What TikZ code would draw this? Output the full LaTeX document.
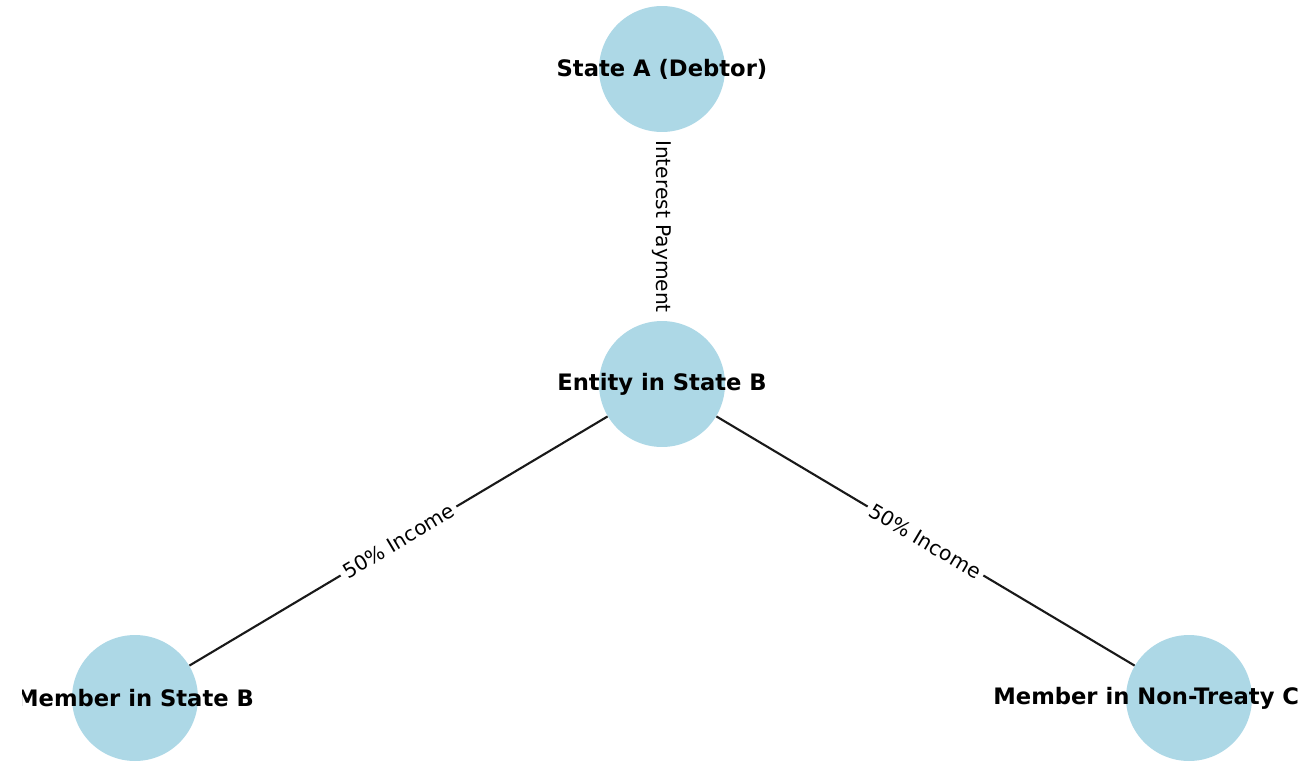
\documentclass[tikz,border=0pt]{standalone}
\usepackage{fontspec}
\setmainfont{DejaVu Sans}
\usepackage{tikz}
\definecolor{nodeblue}{HTML}{ADD8E6}

\begin{document}
\begin{tikzpicture}[x=0.02cm, y=-0.02cm,
	party/.style={circle, fill=nodeblue, minimum size=2.52cm, inner sep=0pt},
	partyname/.style={font=\fontsize{12.9}{15}\selectfont\bfseries, inner sep=0pt},
	flow/.style={line width=1.2pt, draw=black!90},
	flowlabel/.style={font=\fontsize{11.5}{14}\selectfont, fill=white, inner sep=2.5pt, midway}]
	\useasboundingbox (0,0) rectangle (1304,761);
	\begin{scope}
	\clip (22,0) rectangle (1300,761);
\node[party] (debtor) at (662,69) {}; % State A
\node[party] (entity) at (662,384) {}; % Entity B
\node[party] (memberB) at (135,698) {}; % Member B
\node[party] (memberC) at (1189,698) {}; % Member C
\draw[flow, shorten <=3pt, shorten >=3pt] (debtor) -- node[flowlabel, rotate=-90, inner xsep=3.5pt] (interest) {Interest Payment} (entity); % interest
\draw[flow] (memberB) -- node[flowlabel, sloped] (incomeB) {50\% Income} (entity); % income B
\draw[flow] (entity) -- node[flowlabel, sloped] (incomeC) {50\% Income} (memberC); % income C
\node[partyname] (debtor-name) at (debtor) {State A (Debtor)};
\node[partyname] (entity-name) at (entity) {Entity in State B};
\node[partyname] (memberB-name) at (memberB) {Member in State B};
\node[partyname, anchor=west] (memberC-name) at (993,698) {Member in Non-Treaty C};
	\end{scope}
\end{tikzpicture}
\end{document}
